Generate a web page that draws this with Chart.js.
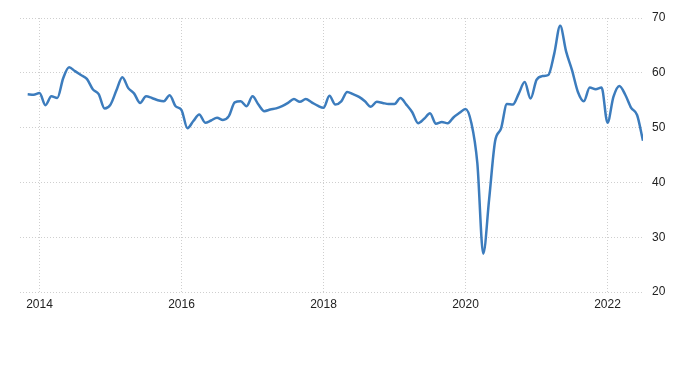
<!DOCTYPE html>
<html>
<head>
<meta charset="utf-8">
<script src="https://cdn.jsdelivr.net/npm/chart.js@4"></script>
<style>
  html, body { margin: 0; padding: 0; background: #fff; }
  #wrap { width: 700px; height: 365px; position: relative; }
</style>
</head>
<body>
<div id="wrap"><canvas id="pmiChart"></canvas></div>
<script>
// Data: monthly values Nov 2013 - Jul 2022
const startYear = 2013;
const startMonth = 11;
const values = [
  56.1, 56.0, 56.3, 54.1, 55.7, 55.4, 59.0, 61.0, 60.3, 59.6, 58.9, 57.0,
  56.1, 53.5, 54.2, 56.8, 59.2, 57.2, 56.2, 54.5, 55.7, 55.4, 55.0, 54.8,
  55.9, 53.9, 53.2, 49.9, 51.2, 52.4, 50.9, 51.3, 51.8, 51.4, 52.1, 54.6,
  54.8, 53.9, 55.7, 54.2, 53.0, 53.3, 53.5, 53.9, 54.5, 55.2, 54.7, 55.2,
  54.6, 54.0, 53.6, 55.8, 54.2, 54.8, 56.5, 56.1, 55.6, 54.8, 53.8, 54.7,
  54.5, 54.3, 54.3, 55.4, 54.2, 52.8, 50.8, 51.6, 52.6, 50.7, 51.0, 50.8,
  51.9, 52.7, 53.4, 50.8, 43.5, 27.0, 37.0, 47.5, 49.8, 54.3, 54.2, 56.2,
  58.3, 55.3, 58.7, 59.4, 59.6, 63.5, 68.6, 63.9, 60.5, 56.5, 54.8, 57.3,
  57.0, 57.3, 50.9, 55.6, 57.6, 56.0, 53.6, 52.3, 47.6
];
const yearTicks = [2014, 2016, 2018, 2020, 2022];
const valueTicks = [20, 30, 40, 50, 60, 70];

const months = values.map((v, i) => {
  const m = startMonth - 1 + i;
  return (startYear + Math.floor(m / 12)) + '-' + String(m % 12 + 1).padStart(2, '0');
});
const points = months.map((lbl, i) => {
  const [y, m] = lbl.split('-').map(Number);
  return { x: y + (m - 1) / 12, y: values[i] };
});

const gridColor = '#cfcfcf';
const ctx = document.getElementById('pmiChart').getContext('2d');
new Chart(ctx, {
  type: 'line',
  data: {
    datasets: [{
      data: points,
      borderColor: '#3c7cbd',
      borderWidth: 2.5,
      pointRadius: 0,
      cubicInterpolationMode: 'monotone',
      fill: false
    }]
  },
  options: {
    responsive: true,
    maintainAspectRatio: false,
    animation: false,
    layout: { padding: { left: 20, top: 18, right: 0, bottom: 0 } },
    plugins: { legend: { display: false }, tooltip: { enabled: false } },
    scales: {
      x: {
        type: 'linear',
        min: 2013.725,
        max: 2022.5,
        afterBuildTicks: axis => { axis.ticks = yearTicks.map(v => ({ value: v })); },
        afterFit: axis => { axis.height = 73; },
        border: { display: false, dash: [1, 2] },
        grid: { color: gridColor, drawTicks: false },
        ticks: {
          padding: 5,
          color: '#222',
          font: { family: 'Arial, "Liberation Sans"', size: 12 },
          callback: v => String(v)
        }
      },
      y: {
        position: 'right',
        min: 20,
        max: 70,
        afterBuildTicks: axis => { axis.ticks = valueTicks.map(v => ({ value: v })); },
        afterFit: axis => { axis.width = 57; },
        border: { display: false, dash: [1, 2] },
        grid: { color: gridColor, drawTicks: false },
        ticks: {
          padding: 9,
          color: '#222',
          font: { family: 'Arial, "Liberation Sans"', size: 12 }
        }
      }
    }
  }
});
</script>
</body>
</html>
